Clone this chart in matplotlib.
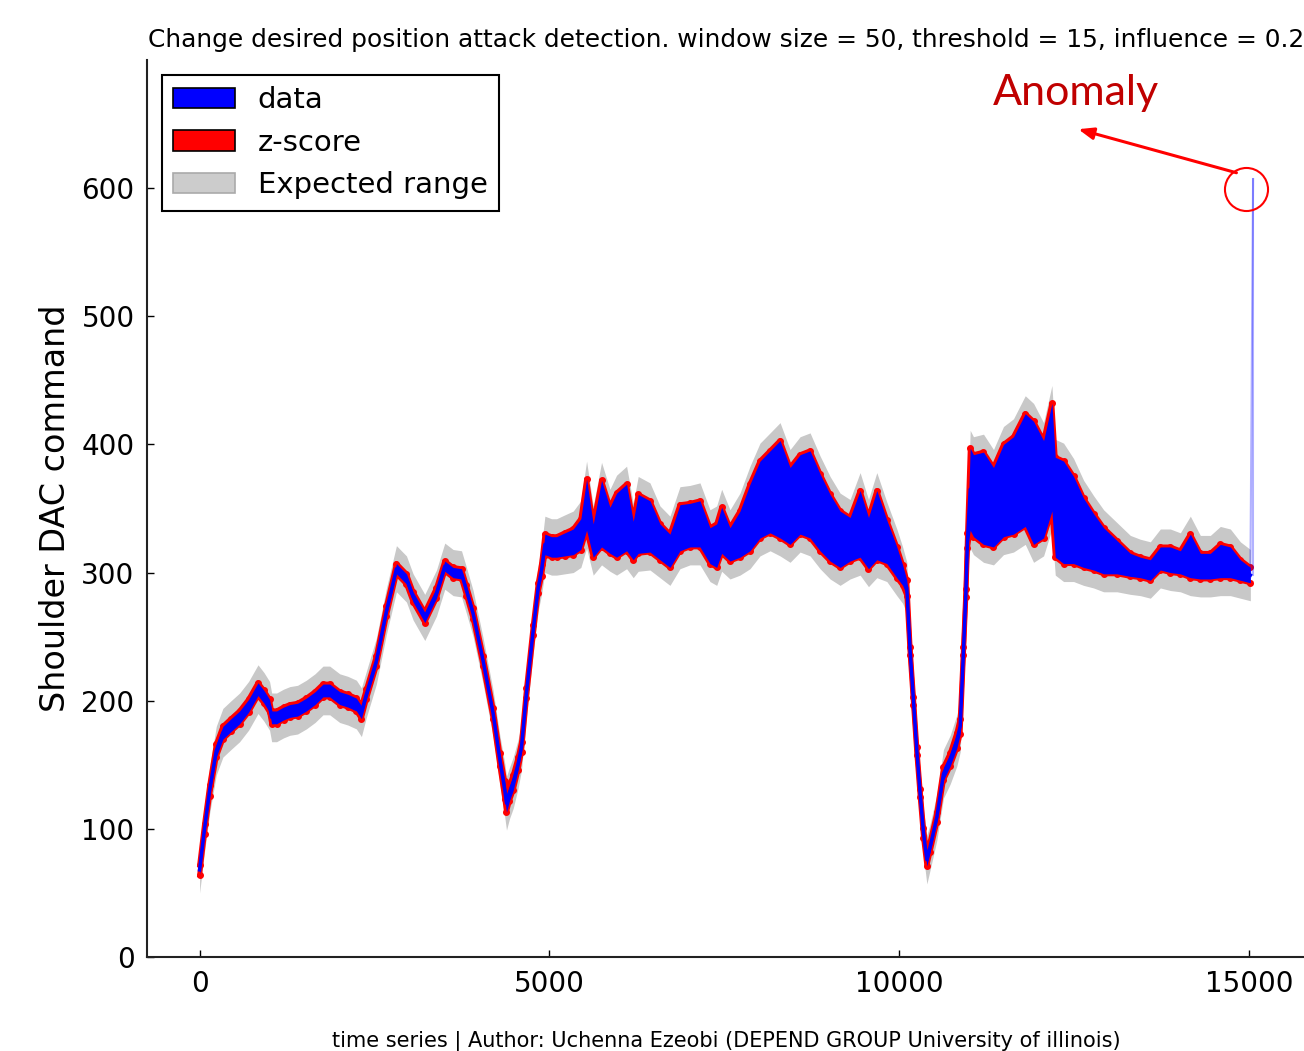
import matplotlib
matplotlib.use("Agg")
import matplotlib.pyplot as plt
import matplotlib.patches as mpatches
import numpy as np

# ---------------- data ----------------
t_idx = [0, 70, 143, 238, 333, 450, 572, 700, 835, 920, 1000, 1030, 1100, 1200, 1290,
         1400, 1526, 1650, 1764, 1860, 2003, 2120, 2241, 2313, 2384, 2527, 2671, 2814,
         2957, 3052, 3219, 3386, 3505, 3624, 3744, 3815, 3910, 4053, 4196, 4292, 4363,
         4387, 4430, 4483, 4554, 4602, 4673, 4769, 4840, 4888, 4936, 5031, 5103, 5220,
         5341, 5450, 5532, 5627, 5746, 5866, 5961, 6104, 6199, 6270, 6438, 6581, 6724,
         6867, 7010, 7153, 7296, 7392, 7463, 7582, 7725, 7868, 8011, 8155, 8298, 8441,
         8584, 8727, 8870, 9013, 9156, 9299, 9442, 9562, 9681, 9824, 9967, 10050, 10110,
         10157, 10205, 10253, 10300, 10348, 10396, 10443, 10539, 10634, 10730, 10825,
         10873, 10920, 10954, 10977, 11016, 11063, 11206, 11349, 11492, 11635, 11803,
         11922, 12065, 12184, 12232, 12351, 12494, 12637, 12780, 12923, 13114, 13305,
         13448, 13591, 13734, 13877, 14020, 14163, 14306, 14449, 14592, 14735, 14878,
         15021]
data_center = [68, 100, 130, 161, 175, 181, 187, 196, 209, 203, 196, 187, 187, 190, 192,
               193, 197, 202, 208, 208, 202, 200, 197, 191, 205, 231, 270, 303,
               295, 281, 265, 284, 305, 300, 299, 286, 268, 231, 190, 154, 130,
               120, 128, 136, 151, 164, 206, 255, 288, 302, 322, 320, 320, 322,
               324, 330, 353, 325, 346, 333, 337, 343, 325, 338, 336, 324, 317,
               335, 337, 338, 321, 321, 333, 322, 330, 343, 357, 363, 365, 352,
               361, 361, 347, 335, 326, 326, 338, 323, 337, 324, 308, 298, 288,
               239, 200, 161, 128, 97, 76, 86, 109, 143, 154, 169,
               180, 239, 284, 325, 365, 360, 358, 351, 364, 368, 380,
               370, 365, 390, 351, 347, 341, 331, 324, 317, 312, 306,
               304, 302, 311, 310, 308, 313, 305, 305, 309, 308, 302,
               298]
data_halfwidth = [4, 4, 4, 5, 5, 5, 5, 5, 5, 5, 5, 5, 5, 5, 5,
                  5, 5, 5, 5, 5, 5, 5, 5, 5, 4, 4, 4, 4,
                  4, 4, 4, 4, 4, 4, 4, 4, 4, 4, 4, 5, 7,
                  7, 6, 6, 5, 4, 4, 4, 4, 5, 8, 8, 8, 9,
                  10, 12, 20, 13, 26, 18, 25, 26, 15, 23, 20, 14, 13,
                  18, 17, 18, 14, 17, 18, 13, 18, 26, 30, 32, 38, 30,
                  31, 34, 30, 26, 22, 17, 26, 20, 27, 17, 12, 8, 6,
                  3, 3, 3, 3, 4, 5, 4, 4, 5, 5, 6,
                  6, 3, 3, 6, 32, 32, 36, 31, 36, 38, 44,
                  48, 38, 42, 39, 40, 34, 27, 22, 18, 13, 9,
                  8, 8, 9, 10, 9, 17, 10, 10, 13, 12, 8,
                  6]
expected_margin = 14
anomaly_t = 15060
anomaly_value = 607

title = ("Change desired position attack detection. window size = 50, "
         "threshold = 15, influence = 0.2")
xlabel = "time series | Author: Uchenna Ezeobi (DEPEND GROUP University of illinois)"
ylabel = "Shoulder DAC command"
legend_labels = ["data", "z-score", "Expected range"]
xticks = [0, 5000, 10000, 15000]
yticks = [0, 100, 200, 300, 400, 500, 600]

# ---------------- figure ----------------
W, H = 1304, 1051
fig = plt.figure(figsize=(W / 100, H / 100), dpi=100)
ax = fig.add_axes([147 / W, 1 - 957 / H, (1305 - 147) / W, (957 - 60) / H])

t = np.array(t_idx, dtype=float)
c = np.array(data_center, dtype=float)
hw = np.array(data_halfwidth, dtype=float)
hi = c + hw
lo = c - hw

ax.fill_between(t, lo - expected_margin, hi + expected_margin, color="#c8c8c8",
                lw=0, zorder=1)
ax.plot(t, hi, color="red", lw=3.5, zorder=2, solid_joinstyle="round")
ax.plot(t, lo, color="red", lw=3.5, zorder=2, solid_joinstyle="round")
ax.plot(t, hi, "o", color="red", ms=4, zorder=2)
ax.plot(t, lo, "o", color="red", ms=4, zorder=2)
ax.fill_between(t, lo, hi, color="blue", lw=0, zorder=3)
ax.plot(t, c, color="blue", lw=2.5, zorder=3)
# thin line up to the anomalous sample
ax.plot([t[-1], anomaly_t], [c[-1], anomaly_value], color="blue", alpha=0.3, lw=1.5,
        zorder=3)
ax.plot([anomaly_t, anomaly_t], [anomaly_value, c[-1]], color="blue", alpha=0.3,
        lw=1.5, zorder=3)

ax.set_xlim(-752, 15802)
ax.set_ylim(0, 700)
ax.set_xticks(xticks)
ax.set_yticks(yticks)
for s in ("top", "right"):
    ax.spines[s].set_visible(False)
for s in ("left", "bottom"):
    ax.spines[s].set_linewidth(1.5)
    ax.spines[s].set_color("#222222")
ax.tick_params(direction="in", length=5, width=1, labelsize=20, pad=9,
               top=False, right=False)

ax.set_title(title, fontsize=17.9, pad=9)
ax.set_xlabel(xlabel, fontsize=15, labelpad=24)
ax.set_ylabel(ylabel, fontsize=24, labelpad=7)

handles = [mpatches.Patch(facecolor="blue", edgecolor="black", lw=1.2),
           mpatches.Patch(facecolor="red", edgecolor="black", lw=1.2),
           mpatches.Patch(facecolor="#cccccc", edgecolor="#aaaaaa", lw=1.2)]
leg = ax.legend(handles, legend_labels, loc="upper left", fontsize=21,
                fancybox=False, framealpha=1, edgecolor="black",
                handlelength=2.1, borderaxespad=0.5)
leg.get_frame().set_linewidth(1.5)

# annotation
ax.plot([14964], [599], "o", ms=31, mfc="none", mec="red", mew=1.5, zorder=5)
ax.annotate("", xy=(12561, 646), xytext=(14822, 612),
            arrowprops=dict(arrowstyle="-|>,head_length=0.9,head_width=0.35",
                            color="red", lw=2.2, shrinkA=0, shrinkB=0))
ax.text(12532, 674, "Anomaly", color="#C00000", fontsize=31, family="Lato",
        ha="center", va="center")

fig.savefig("out.png", dpi=100)
